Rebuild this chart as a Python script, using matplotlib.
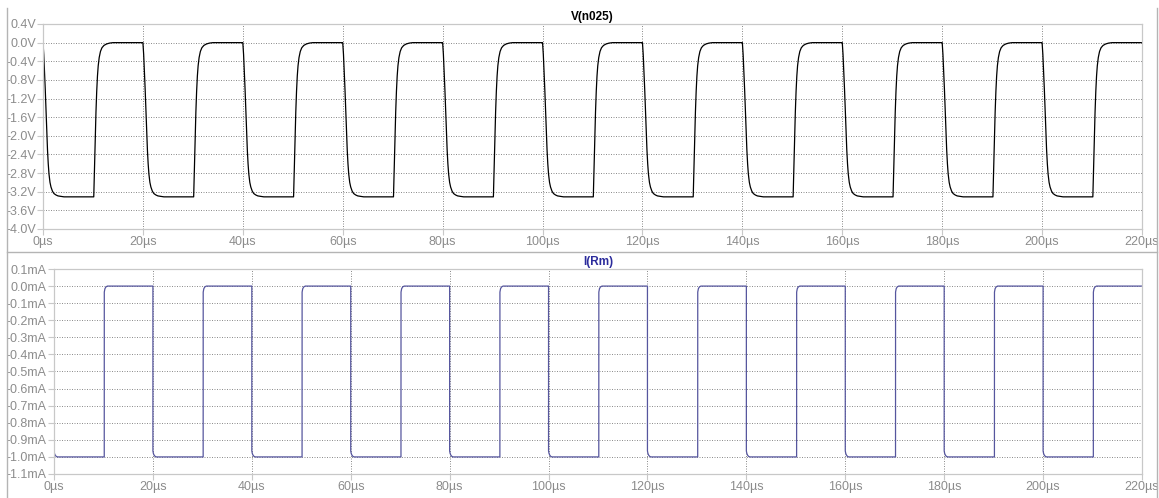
import numpy as np
import matplotlib.pyplot as plt
from matplotlib.lines import Line2D

plt.rcParams['font.family'] = ['Liberation Sans', 'DejaVu Sans']

# start of each 20us switching cycle
cycle_starts = [0, 20, 40, 60, 80, 100, 120, 140, 160, 180, 200]

# V(n025) over one cycle: time offset (us), volts
v_cycle_t = [0.0, 0.15, 0.3, 0.45, 0.6, 0.75, 0.9, 1.05, 1.2, 1.4, 1.6, 1.9, 2.2, 2.6, 3.0, 3.6, 4.2,
             10.16, 10.3, 10.45, 10.6, 10.75, 10.9, 11.05, 11.25, 11.5, 11.8, 12.2, 12.7, 13.3, 14.0, 20.0]
v_cycle = [0.0, -0.25, -0.6, -1.0, -1.45, -1.9, -2.3, -2.6, -2.82, -3.0, -3.1, -3.19, -3.24, -3.27,
           -3.29, -3.3, -3.31,
           -3.31, -2.75, -2.1, -1.5, -1.05, -0.72, -0.5, -0.32, -0.19, -0.11, -0.06, -0.03, -0.01, 0.0, 0.0]

# I(Rm) over one cycle: time offset (us), mA
i_cycle_t = [0.0, 0.1, 0.25, 0.45, 0.7, 10.16, 10.17, 10.3, 10.5, 10.8, 20.0]
i_cycle = [-0.965, -0.98, -0.99, -0.997, -1.0, -1.0, -0.035, -0.015, -0.005, 0.0, 0.0]

t_max = 220
x_ticks = [0, 20, 40, 60, 80, 100, 120, 140, 160, 180, 200, 220]
v_ticks = [0.4, 0.0, -0.4, -0.8, -1.2, -1.6, -2.0, -2.4, -2.8, -3.2, -3.6, -4.0]
i_ticks = [0.1, 0.0, -0.1, -0.2, -0.3, -0.4, -0.5, -0.6, -0.7, -0.8, -0.9, -1.0, -1.1]


def build_trace(offsets, values):
    t, y = [], []
    for start in cycle_starts:
        t.extend(start + np.array(offsets))
        y.extend(values)
    return np.array(t), np.array(y)


v_t, v_y = build_trace(v_cycle_t, v_cycle)
i_t, i_y = build_trace(i_cycle_t, i_cycle)

W, H = 1159, 498
fig = plt.figure(figsize=(W / 100, H / 100), dpi=100)
fig.patch.set_facecolor('white')

label_col = '#8c8c8c'
frame_col = '#c8c8c8'
grid_col = '#7a7a7a'


def style_axes(ax, yticks, ylabels):
    ax.set_xlim(0, t_max)
    ax.set_ylim(yticks[-1], yticks[0])
    ax.set_xticks(x_ticks)
    ax.set_xticklabels([f'{x}\u00b5s' for x in x_ticks])
    ax.set_yticks(yticks)
    ax.set_yticklabels(ylabels)
    for s in ax.spines.values():
        s.set_color(frame_col)
        s.set_linewidth(0.9)
    ax.tick_params(length=4, width=0.8, color=frame_col, labelcolor=label_col,
                   labelsize=9, pad=1.2)
    ax.grid(True, color=grid_col, linestyle=(0, (1.2, 1.8)), linewidth=0.6)
    ax.set_axisbelow(True)


# voltage pane
ax1 = fig.add_axes([43 / W, 1 - 229 / H, 1099 / W, 205 / H])
style_axes(ax1, v_ticks, [f'{v:.1f}V' for v in v_ticks])
ax1.plot(v_t, v_y, color='black', linewidth=0.9)
ax1.set_title('V(n025)', fontsize=8.5, fontweight='bold', color='black', pad=3)

# current pane
ax2 = fig.add_axes([54 / W, 1 - 474 / H, 1088 / W, 205 / H])
style_axes(ax2, i_ticks, [f'{v:.1f}mA' for v in i_ticks])
ax2.plot(i_t, i_y, color='#56569e', linewidth=0.9)
ax2.set_title('I(Rm)', fontsize=8.5, fontweight='bold', color='#2b2b9c', pad=3)

# pane borders
border = dict(color='#b4b4b4', linewidth=1.0, transform=fig.transFigure)
fig.add_artist(Line2D([6.5 / W, 6.5 / W], [0, 1 - 8 / H], **border))
fig.add_artist(Line2D([1156.5 / W, 1156.5 / W], [0, 1 - 8 / H], **border))
fig.add_artist(Line2D([6.5 / W, 1156.5 / W], [1 - 252.5 / H, 1 - 252.5 / H], **border))

fig.savefig('out.png', dpi=100)
